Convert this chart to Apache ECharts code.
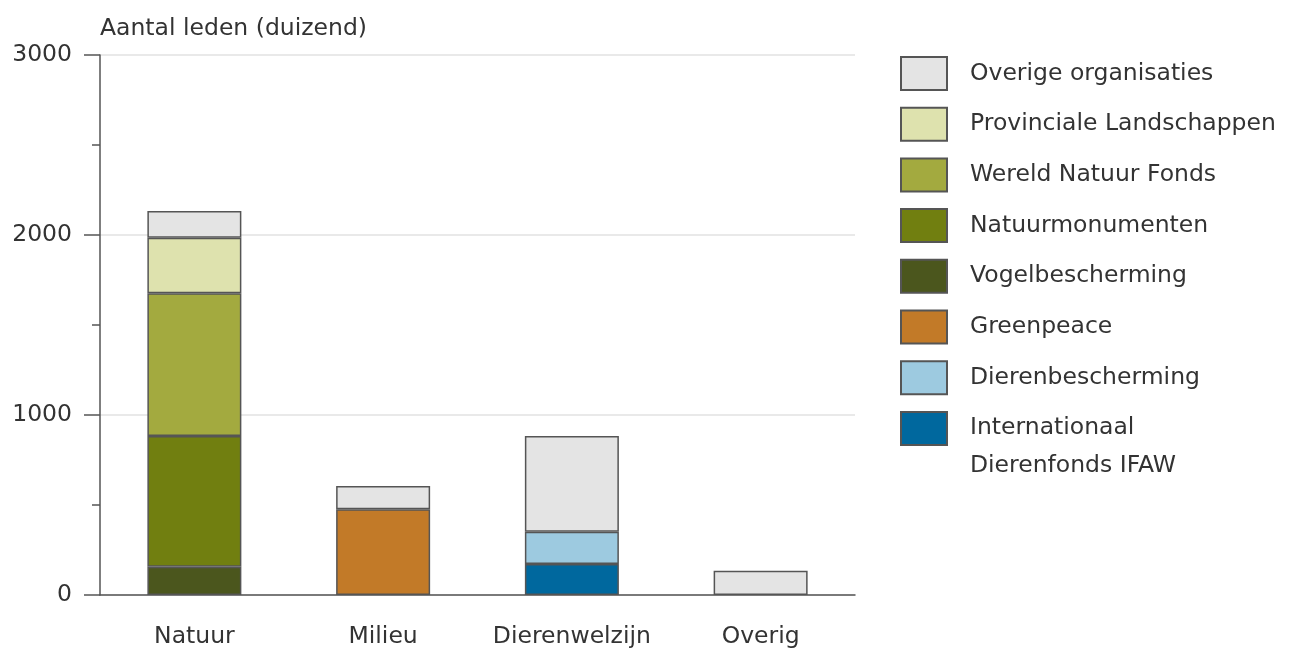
<!DOCTYPE html>
<html>
<head>
<meta charset="utf-8">
<script src="https://cdn.jsdelivr.net/npm/echarts@6/dist/echarts.min.js"></script>
<style>
html,body{margin:0;padding:0;background:#fff;}
#c{width:1289px;height:648px;}
</style>
</head>
<body>
<div id="c"></div>
<script>
const categories = ['Natuur', 'Milieu', 'Dierenwelzijn', 'Overig'];
const vogelbescherming = [157, null, null, null];
const natuurmonumenten = [726, null, null, null];
const wereldNatuurFonds = [793, null, null, null];
const provincialeLandschappen = [309, null, null, null];
const greenpeace = [null, 476, null, null];
const ifaw = [null, null, 172, null];
const dierenbescherming = [null, null, 180, null];
const overige = [148, 130, 531, 135];
const yTicks = [0, 1000, 2000, 3000];
const legendOrder = ['Overige organisaties', 'Provinciale Landschappen', 'Wereld Natuur Fonds',
  'Natuurmonumenten', 'Vogelbescherming', 'Greenpeace', 'Dierenbescherming'];
const IFAW_NAME = 'Internationaal Dierenfonds IFAW';

const FONT = '"DejaVu Sans", Verdana, sans-serif';
const FS = 23.5;
const seriesDefs = [
  ['Vogelbescherming', vogelbescherming, '#4b561d'],
  ['Natuurmonumenten', natuurmonumenten, '#717f10'],
  ['Wereld Natuur Fonds', wereldNatuurFonds, '#a3aa3f'],
  ['Provinciale Landschappen', provincialeLandschappen, '#dee2ae'],
  ['Greenpeace', greenpeace, '#c27a28'],
  [IFAW_NAME, ifaw, '#00689e'],
  ['Dierenbescherming', dierenbescherming, '#9dcae0'],
  ['Overige organisaties', overige, '#e4e4e4']
];

const legendCommon = {
  orient: 'vertical',
  left: 900,
  padding: 0,
  icon: 'rect',
  itemWidth: 46, itemHeight: 33, itemGap: 15.7,
  textStyle: {fontFamily: FONT, fontSize: FS, color: '#333', lineHeight: 28, padding: [0, 0, 0, 18]}
};

const chart = echarts.init(document.getElementById('c'));
chart.setOption({
  animation: false,
  backgroundColor: '#fff',
  title: {
    text: 'Aantal leden (duizend)',
    left: 100, top: 14, padding: 0,
    textStyle: {fontFamily: FONT, fontSize: FS, fontWeight: 'normal', color: '#333', lineHeight: 30}
  },
  grid: {left: 100, right: 434, top: 55, bottom: 53, containLabel: false, outerBoundsMode: 'none'},
  legend: [
    Object.assign({}, legendCommon, {top: 56, data: legendOrder}),
    Object.assign({}, legendCommon, {
      top: 411,
      data: [IFAW_NAME],
      formatter: function () { return '{a|Internationaal}\n{b|Dierenfonds IFAW}'; },
      textStyle: {
        fontFamily: FONT, fontSize: FS, color: '#333', padding: [0, 0, 0, 18],
        rich: {
          a: {fontFamily: FONT, fontSize: FS, color: '#333', lineHeight: 74},
          b: {fontFamily: FONT, fontSize: FS, color: '#333', lineHeight: 2}
        }
      }
    })
  ],
  xAxis: {
    type: 'category',
    data: categories,
    axisLine: {lineStyle: {color: '#555', width: 1.5}},
    axisTick: {show: false},
    axisLabel: {fontFamily: FONT, fontSize: FS, color: '#333', margin: 30, interval: 0}
  },
  yAxis: {
    type: 'value',
    min: yTicks[0], max: yTicks[yTicks.length - 1], interval: 1000,
    axisLine: {show: true, lineStyle: {color: '#555', width: 1.5}},
    axisTick: {show: true, length: 16, lineStyle: {color: '#555', width: 1.5}},
    minorTick: {show: true, splitNumber: 2, length: 8, lineStyle: {color: '#555', width: 1.5}},
    splitLine: {show: true, lineStyle: {color: '#e2e2e2', width: 1.5}},
    axisLabel: {fontFamily: FONT, fontSize: FS, color: '#333', margin: 28,
      formatter: function (v) { return String(v); }}
  },
  series: seriesDefs.map(([name, data, color]) => ({
    name, type: 'bar', stack: 'a', data,
    barWidth: 94,
    itemStyle: {color, borderColor: '#555', borderWidth: 1.5}
  }))
});
</script>
</body>
</html>
